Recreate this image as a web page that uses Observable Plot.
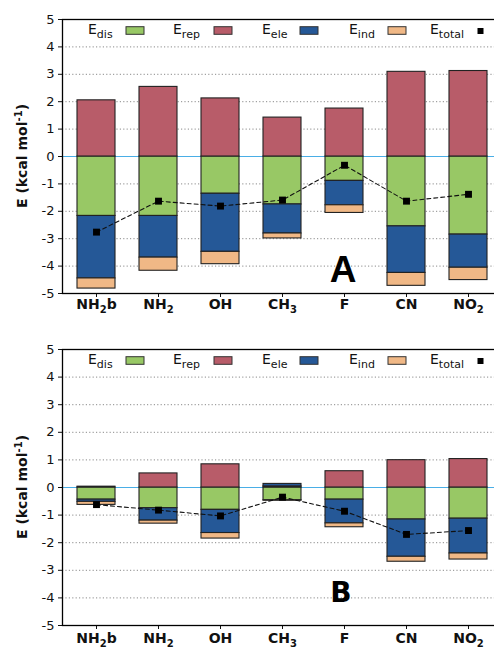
<!DOCTYPE html>
<html><head><meta charset="utf-8">
<script src="https://cdn.jsdelivr.net/npm/d3@7"></script>
<script src="https://cdn.jsdelivr.net/npm/@observablehq/plot@0.6"></script>
<style>
html,body{margin:0;padding:0;background:#fff;overflow:hidden;width:494px;height:649px}
svg{display:block;max-width:none !important}
</style></head><body><div id="chart"></div>
<script>
const substituents = ["NH2b","NH2","OH","CH3","F","CN","NO2"];
const components = ["dis","rep","ele","ind"];
const compColors = ["#98c865","#b85c69","#255897","#f0b886"];
const yTicks = [-5,-4,-3,-2,-1,0,1,2,3,4,5];

// Panel A (kcal/mol)
const disA   = [-2.17,-2.17,-1.36,-1.75,-0.89,-2.55,-2.85];
const repA   = [ 2.05, 2.54, 2.12, 1.42, 1.75, 3.09, 3.12];
const eleA   = [-2.28,-1.52,-2.12,-1.06,-0.89,-1.70,-1.21];
const indA   = [-0.37,-0.48,-0.45,-0.18,-0.28,-0.47,-0.45];
const totalA = [-2.76,-1.63,-1.81,-1.59,-0.32,-1.63,-1.38];

// Panel B (kcal/mol)
const disB   = [-0.44,-0.75,-0.81,-0.46,-0.44,-1.16,-1.13];
const repB   = [ 0.03, 0.51, 0.84, 0.04, 0.59, 0.99, 1.03];
const eleB   = [-0.08,-0.45,-0.84, 0.09,-0.86,-1.35,-1.26];
const indB   = [-0.11,-0.11,-0.20,-0.02,-0.14,-0.18,-0.22];
const totalB = [-0.62,-0.82,-1.03,-0.35,-0.86,-1.70,-1.56];

function addSubText(sel, parts, subSize, shift) {
  parts.forEach((p, i) => {
    const t = sel.append("tspan").text(p.t);
    if (p.sub) { t.attr("font-size", subSize).attr("dy", shift); }
    else if (i > 0 && parts[i-1].sub) { t.attr("dy", -shift); }
  });
}

function panel(series, totals, letter, o) {
  const data = substituents.flatMap((s, i) =>
    components.map((c, j) => ({sub: s, comp: c, value: series[j][i]})));
  const tot = substituents.map((s, i) => ({sub: s, value: totals[i]}));
  const W = 502;
  const svg = Plot.plot({
    width: W, height: o.height,
    marginLeft: 62, marginRight: 1, marginTop: o.top, marginBottom: o.bottom,
    style: {fontFamily: "DejaVu Sans", fontSize: "13px", color: "#111", background: "#fff", maxWidth: "none"},
    x: {domain: substituents, paddingInner: 0.39, paddingOuter: 0.195, axis: null},
    y: {domain: [-5, 5], axis: null},
    color: {domain: components, range: compColors},
    marks: [
      Plot.gridY(yTicks.filter(d => d !== 0 && Math.abs(d) !== 5), {stroke: "#8a8a8a", strokeOpacity: 1, strokeDasharray: "1.2,2.2"}),
      Plot.ruleY([0], {stroke: "#4aaee6", strokeWidth: 1}),
      Plot.barY(data, {x: "sub", y: "value", fill: "comp", stroke: "#222", strokeWidth: 1.1}),
      Plot.line(tot, {x: "sub", y: "value", stroke: "#111", strokeWidth: 1.1, strokeDasharray: "4,3"}),
      Plot.dot(tot, {x: "sub", y: "value", symbol: "square", r: 3.9, fill: "#000", stroke: null}),
      Plot.axisY({ticks: yTicks, tickSize: 4, tickPadding: 4, tickFormat: d => String(d), fontSize: 13, label: null, color: "#111"}),
      Plot.axisX({tickSize: 4, tickPadding: o.xpad, label: null, fontSize: 14, fontWeight: "bold", color: "#111"}),
      Plot.frame({stroke: "#000", strokeWidth: 1.3})
    ]
  });
  svg.style.maxWidth = "none";
  const s = d3.select(svg);
  // subscripts in x tick labels
  s.selectAll('g[aria-label="x-axis tick label"] text').each(function() {
    const txt = this.textContent;
    const parts = txt.match(/\d+|\D+/g).map(p => ({t: p, sub: /\d/.test(p)}));
    const el = d3.select(this).text("");
    addSubText(el, parts, 10, 4);
  });
  const top = o.top;
  // legend
  const lg = s.append("g").attr("font-family", "DejaVu Sans").attr("fill", "#111").attr("text-anchor", "start");
  const legendItems = [
    {label: "dis", tx: 88, sx: 126, comp: "dis"},
    {label: "rep", tx: 173, sx: 214, comp: "rep"},
    {label: "ele", tx: 262, sx: 300, comp: "ele"},
    {label: "ind", tx: 349, sx: 388, comp: "ind"},
    {label: "total", tx: 430, sx: null, comp: null}
  ];
  legendItems.forEach(it => {
    const t = lg.append("text").attr("x", it.tx).attr("y", top + 15).attr("font-size", 14).attr("text-anchor", "start");
    addSubText(t, [{t: "E", sub: false}, {t: it.label, sub: true}], 11, 4);
    if (it.comp) {
      lg.append("rect").attr("x", it.sx).attr("y", top + 7.7).attr("width", 18).attr("height", 7.6)
        .attr("fill", compColors[components.indexOf(it.comp)]).attr("stroke", "#333").attr("stroke-width", 1);
    } else {
      lg.append("rect").attr("x", 477.5).attr("y", top + 9).attr("width", 6).attr("height", 6).attr("fill", "#000");
    }
  });
  // y label
  const yl = s.append("text")
    .attr("transform", `translate(27,${top + (o.height - top - o.bottom) / 2}) rotate(-90)`)
    .attr("text-anchor", "middle").attr("font-family", "DejaVu Sans").attr("font-weight", "bold")
    .attr("font-size", 14).attr("fill", "#111");
  yl.append("tspan").text("E (kcal mol");
  yl.append("tspan").text("-1").attr("font-size", 10).attr("dy", -5);
  yl.append("tspan").text(")").attr("dy", 5);
  // panel letter
  s.append("text").attr("x", o.lx).attr("y", o.height - o.bottom - o.lb)
    .attr("text-anchor", "middle").attr("font-family", o.lfont).attr("font-weight", "bold")
    .attr("font-size", o.lsize).attr("fill", "#000").text(letter);
  return svg;
}

const root = document.getElementById("chart");
root.appendChild(panel([disA, repA, eleA, indA], totalA, "A",
  {height: 324, top: 19, bottom: 31, xpad: 2, lx: 343, lb: 11, lsize: 37, lfont: "Liberation Sans"}));
root.appendChild(panel([disB, repB, eleB, indB], totalB, "B",
  {height: 325, top: 25, bottom: 24, xpad: 4, lx: 341, lb: 23, lsize: 28, lfont: "DejaVu Sans"}));
</script></body></html>
